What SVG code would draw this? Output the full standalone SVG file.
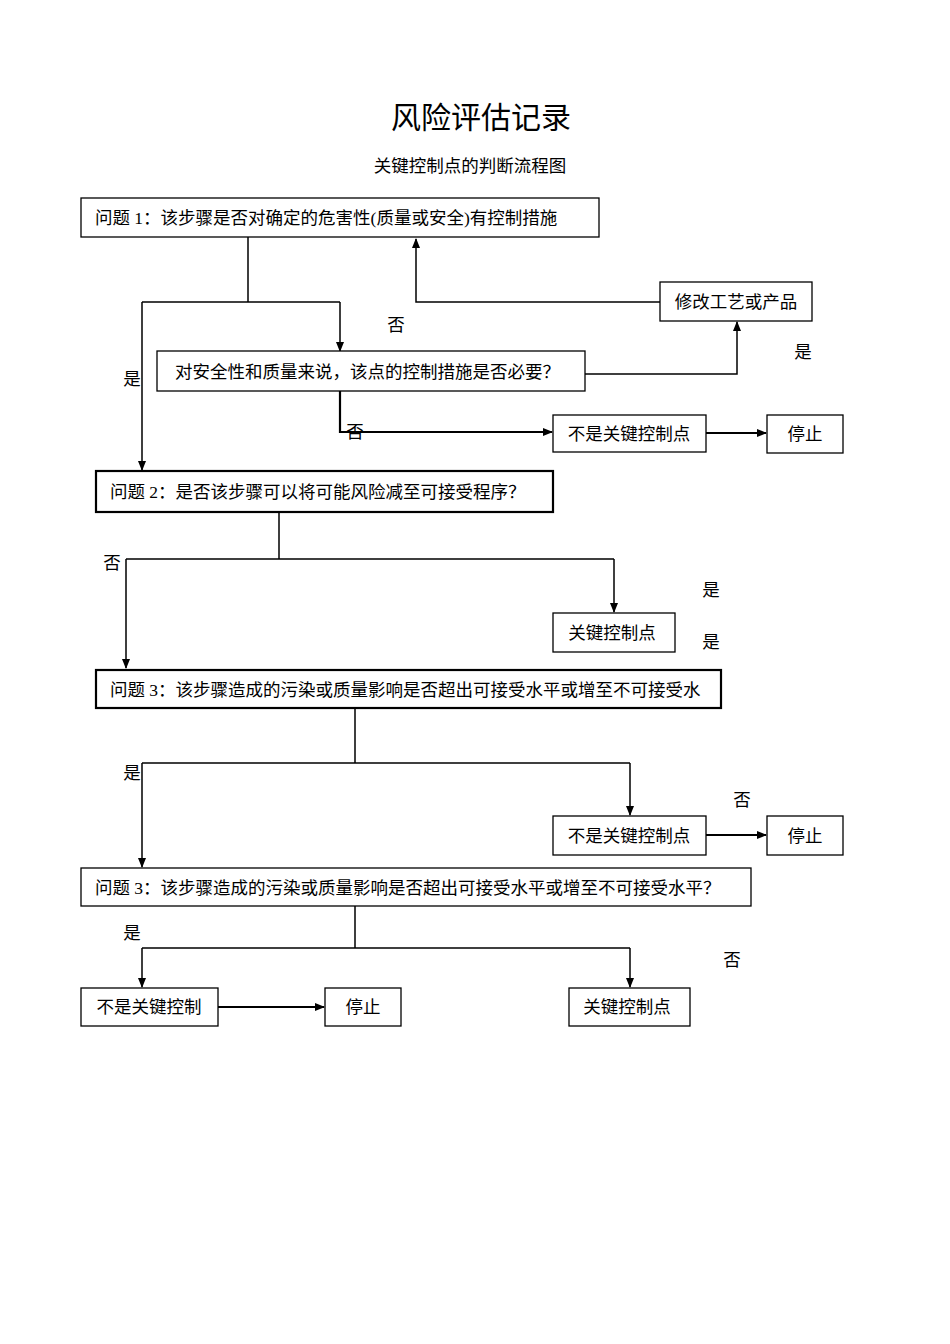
<svg xmlns="http://www.w3.org/2000/svg" width="950" height="1344" viewBox="0 0 950 1344">
<style>
text{font-family:"Liberation Serif","Noto Sans CJK SC",serif;font-size:17.5px;fill:#000}
.b{fill:#fff;stroke:#000;stroke-width:1.3}
.t{fill:#fff;stroke:#000;stroke-width:2.2}
.c{fill:none;stroke:#000;stroke-width:1.5}
.h{fill:none;stroke:#000;stroke-width:2.2}
</style>
<defs><marker id="a" markerWidth="10" markerHeight="10" refX="9" refY="5" orient="auto" markerUnits="userSpaceOnUse"><path d="M0,1 L10,5 L0,9 Z" fill="#000"/></marker></defs>
<rect width="950" height="1344" fill="#fff"/>
<text x="481" y="128" text-anchor="middle" style="font-family:'Noto Sans CJK SC',sans-serif;font-size:30px">风险评估记录</text>
<text x="470" y="172" text-anchor="middle" font-size="17.5">关键控制点的判断流程图</text>
<g id="connectors">
<path class="c" d="M248,237 V302 M142,302 H340 M142,302 V470" marker-end="url(#a)"/>
<path class="c" d="M340,302 V351" marker-end="url(#a)"/>
<path class="c" d="M585,374 H737 V322" marker-end="url(#a)"/>
<path class="c" d="M660,302 H416 V239" marker-end="url(#a)"/>
<path class="h" d="M340,391 V432 H552" marker-end="url(#a)"/>
<path class="h" d="M706,433 H766" marker-end="url(#a)"/>
<path class="c" d="M279,512 V559 M126,559 H614 M126,559 V668" marker-end="url(#a)"/>
<path class="c" d="M614,559 V612" marker-end="url(#a)"/>
<path class="c" d="M355,708 V763 M142,763 H630 M142,763 V867" marker-end="url(#a)"/>
<path class="c" d="M630,763 V815" marker-end="url(#a)"/>
<path class="h" d="M706,835 H766" marker-end="url(#a)"/>
<path class="c" d="M355,906 V948 M142,948 H630 M142,948 V987" marker-end="url(#a)"/>
<path class="c" d="M630,948 V987" marker-end="url(#a)"/>
<path class="h" d="M218,1007 H324" marker-end="url(#a)"/>
</g>
<g id="labels">
<text x="396" y="331" text-anchor="middle" font-size="18">否</text>
<text x="803" y="358" text-anchor="middle" font-size="18">是</text>
<text x="132" y="385" text-anchor="middle" font-size="18">是</text>
<text x="355" y="438" text-anchor="middle" font-size="18">否</text>
<text x="112" y="569" text-anchor="middle" font-size="18">否</text>
<text x="711" y="596" text-anchor="middle" font-size="18">是</text>
<text x="711" y="648" text-anchor="middle" font-size="18">是</text>
<text x="132" y="779" text-anchor="middle" font-size="18">是</text>
<text x="742" y="806" text-anchor="middle" font-size="18">否</text>
<text x="132" y="939" text-anchor="middle" font-size="18">是</text>
<text x="732" y="966" text-anchor="middle" font-size="18">否</text>
</g>
<g id="q1"><rect class="b" x="81" y="198" width="518" height="39"/><text x="95" y="224">问题 1：该步骤是否对确定的危害性(质量或安全)有控制措施</text></g>
<g id="modify"><rect class="b" x="660" y="282" width="152" height="39"/><text x="736" y="308" text-anchor="middle">修改工艺或产品</text></g>
<g id="necessary"><rect class="b" x="157" y="351" width="428" height="40"/><text x="175" y="378">对安全性和质量来说，该点的控制措施是否必要？</text></g>
<g id="notkey1"><rect class="b" x="553" y="415" width="153" height="37"/><text x="629" y="440" text-anchor="middle">不是关键控制点</text></g>
<g id="stop1"><rect class="b" x="767" y="415" width="76" height="38"/><text x="805" y="440" text-anchor="middle">停止</text></g>
<g id="q2"><rect class="t" x="96" y="471" width="457" height="41"/><text x="110" y="498">问题 2：是否该步骤可以将可能风险减至可接受程序？</text></g>
<g id="key1"><rect class="b" x="553" y="613" width="122" height="39"/><text x="612" y="639" text-anchor="middle">关键控制点</text></g>
<g id="q3"><rect class="t" x="96" y="670" width="625" height="38"/><text x="110" y="696">问题 3：该步骤造成的污染或质量影响是否超出可接受水平或增至不可接受水</text></g>
<g id="notkey2"><rect class="b" x="553" y="816" width="153" height="39"/><text x="629" y="842" text-anchor="middle">不是关键控制点</text></g>
<g id="stop2"><rect class="b" x="767" y="816" width="76" height="39"/><text x="805" y="842" text-anchor="middle">停止</text></g>
<g id="q3b"><rect class="b" x="81" y="868" width="670" height="38"/><text x="95" y="894">问题 3：该步骤造成的污染或质量影响是否超出可接受水平或增至不可接受水平？</text></g>
<g id="notkey3"><rect class="b" x="81" y="988" width="137" height="38"/><text x="149" y="1013" text-anchor="middle">不是关键控制</text></g>
<g id="stop3"><rect class="b" x="325" y="988" width="76" height="38"/><text x="363" y="1013" text-anchor="middle">停止</text></g>
<g id="key2"><rect class="b" x="569" y="988" width="121" height="38"/><text x="627" y="1013" text-anchor="middle">关键控制点</text></g>
</svg>
